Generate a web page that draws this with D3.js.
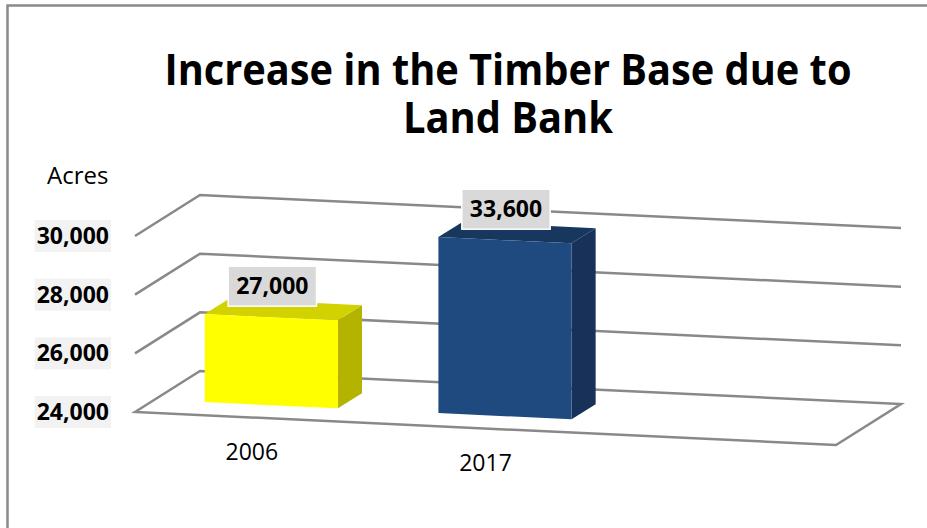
<!DOCTYPE html>
<html>
<head>
<meta charset="utf-8">
<script src="https://cdn.jsdelivr.net/npm/d3@7"></script>
<style>
  html, body { margin: 0; padding: 0; background: #fff; }
  svg { display: block; }
</style>
</head>
<body>
<svg id="chart" width="927" height="528"></svg>
<script>
// Timber base acreage by year (third slot on the category axis is left empty)
const categories = ["2006", "2017", ""];
const acres = [27000, 33600, null];
const tickValues = [24000, 26000, 28000, 30000];
const tickLabels = ["24,000", "26,000", "28,000", "30,000"];
const titleLines = ["Increase in the Timber Base due to", "Land Bank"];
const titleWidths = [687, 210];
const axisTitle = "Acres";

const frontColors = ["#ffff00", "#1f4a80"];
const topColors = ["#d2d200", "#17375f"];
const sideColors = ["#b4b400", "#173158"];

const svg = d3.select("#chart");
const fmt = d3.format(",");

// Oblique 3D projection: u runs along the categories, d from front (0) to back (1)
const origin = { x: 135, y: 412 };
const across = { x: 701, y: 33 };
const depth = { x: 65, y: -41 };

const u = d3.scaleBand().domain(categories).range([0, 1])
  .paddingInner(0.43).paddingOuter(0.215);
const v = d3.scaleLinear().domain([24000, 30000]).range([0, -176]).clamp(true);
const barFront = 0.3, barBack = 0.67;

function P(uu, val, dd) {
  return [origin.x + across.x * uu + depth.x * dd,
          origin.y + across.y * uu + depth.y * dd + v(val)];
}
const line = d3.line();

// chart frame
svg.append("rect")
  .attr("x", 7.5).attr("y", 5.5).attr("width", 940).attr("height", 540)
  .attr("fill", "none").attr("stroke", "#8a8a8a").attr("stroke-width", 2.5);

// title
svg.append("g").selectAll("text").data(titleLines).join("text")
  .attr("x", 508).attr("y", (d, i) => 85 + i * 48)
  .attr("text-anchor", "middle")
  .attr("font-family", "'Open Sans', sans-serif").attr("font-weight", "bold")
  .attr("font-size", 43)
  .attr("textLength", (d, i) => titleWidths[i])
  .attr("lengthAdjust", "spacingAndGlyphs")
  .attr("fill", "#000")
  .text(d => d);

// side and back wall gridlines
const grid = svg.append("g").attr("fill", "none")
  .attr("stroke", "#898989").attr("stroke-width", 2.5).attr("stroke-linejoin", "miter");
grid.selectAll("path.g").data(tickValues.slice(1)).join("path").attr("class", "g")
  .attr("d", t => line([P(0, t, 0), P(0, t, 1), P(1, t, 1)]));
// floor outline
grid.append("path")
  .attr("d", line([P(0, 24000, 0), P(0, 24000, 1), P(1, 24000, 1), P(1, 24000, 0)]) + "Z");

// tick labels with light boxes
const ticks = svg.append("g");
tickValues.forEach((t, i) => {
  const [px, py] = P(0, t, 0);
  const g = ticks.append("g");
  const txt = g.append("text")
    .attr("x", px - 26).attr("y", py).attr("dy", "0.35em")
    .attr("text-anchor", "end")
    .attr("font-family", "'Open Sans', sans-serif").attr("font-weight", "bold")
    .attr("font-size", 23).attr("fill", "#000")
    .text(tickLabels[i]);
  const bb = txt.node().getBBox();
  g.insert("rect", "text")
    .attr("x", bb.x - 2).attr("y", py - 16).attr("width", bb.width + 4).attr("height", 32)
    .attr("fill", "#f2f2f2");
});

// axis title
svg.append("text")
  .attr("x", 47).attr("y", 184)
  .attr("font-family", "'Open Sans', sans-serif").attr("font-size", 24)
  .attr("fill", "#000").text(axisTitle);

// bars
const bars = svg.append("g");
categories.forEach((c, i) => {
  const val = acres[i];
  if (val == null) return;
  const u0 = u(c), u1 = u(c) + u.bandwidth();
  const base = 24000;
  const g = bars.append("g");
  // right side face
  g.append("path").attr("fill", sideColors[i])
    .attr("d", line([P(u1, base, barFront), P(u1, base, barBack), P(u1, val, barBack), P(u1, val, barFront)]) + "Z");
  // top face
  g.append("path").attr("fill", topColors[i])
    .attr("d", line([P(u0, val, barFront), P(u1, val, barFront), P(u1, val, barBack), P(u0, val, barBack)]) + "Z");
  // front face
  g.append("path").attr("fill", frontColors[i])
    .attr("d", line([P(u0, base, barFront), P(u1, base, barFront), P(u1, val, barFront), P(u0, val, barFront)]) + "Z");
});

// value labels
const labels = svg.append("g");
categories.forEach((c, i) => {
  const val = acres[i];
  if (val == null) return;
  const [cx, cy] = P(u(c) + u.bandwidth() / 2, val, barFront);
  const g = labels.append("g");
  const txt = g.append("text")
    .attr("x", cx + 1).attr("y", cy - 31).attr("dy", "0.35em")
    .attr("text-anchor", "middle")
    .attr("font-family", "'Open Sans', sans-serif").attr("font-weight", "bold")
    .attr("font-size", 23).attr("fill", "#000")
    .text(fmt(val));
  const bb = txt.node().getBBox();
  g.insert("rect", "text")
    .attr("x", bb.x - 8).attr("y", cy - 31 - 20).attr("width", bb.width + 16).attr("height", 40)
    .attr("fill", "#d9d9d9").attr("stroke", "#ffffff").attr("stroke-width", 1.5);
});

// category labels along the front floor edge
const cats = svg.append("g");
categories.forEach(c => {
  if (!c) return;
  const [cx, cy] = P(u(c) + u.bandwidth() / 2, 24000, 0);
  cats.append("text")
    .attr("x", cx).attr("y", cy + 34).attr("dy", "0.35em")
    .attr("text-anchor", "middle")
    .attr("font-family", "'Open Sans', sans-serif").attr("font-size", 23)
    .attr("fill", "#000").text(c);
});
</script>
</body>
</html>
